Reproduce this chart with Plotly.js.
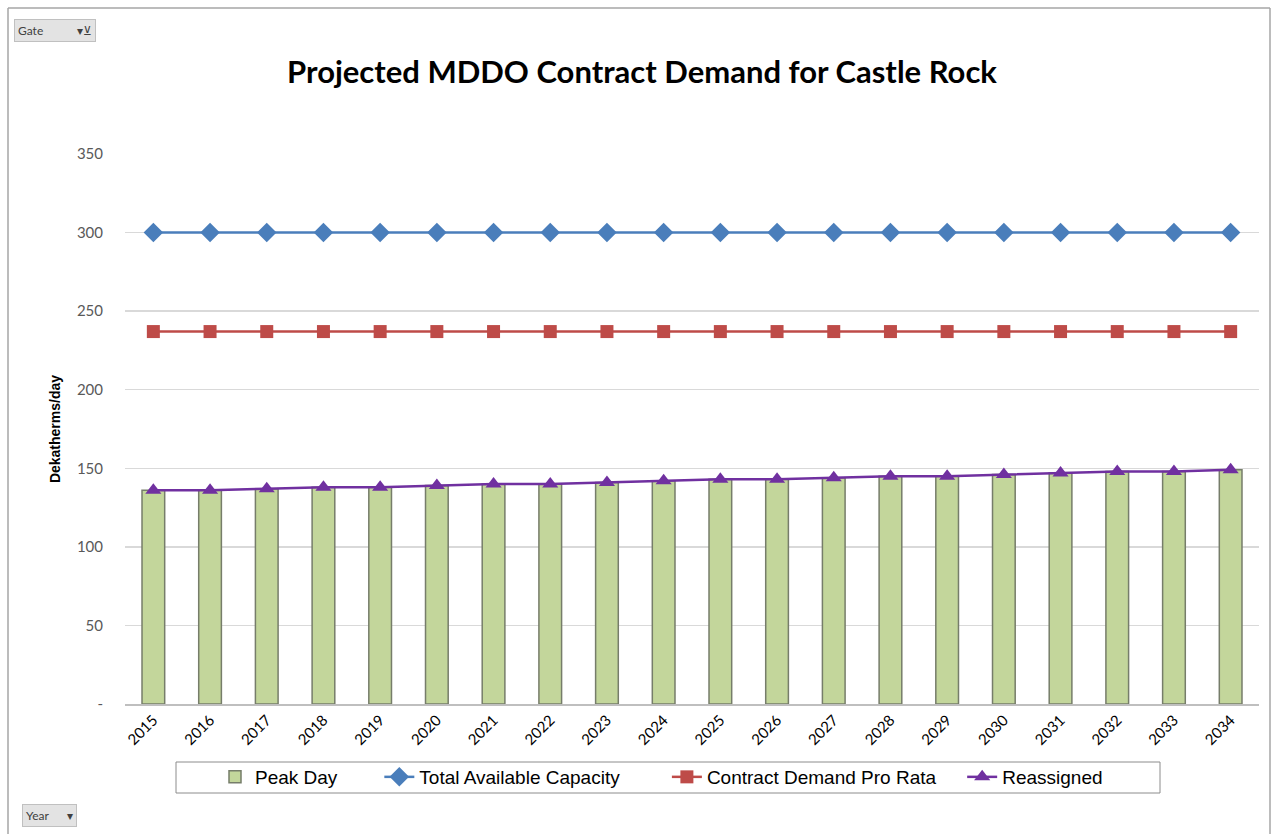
<!DOCTYPE html>
<html>
<head>
<meta charset="utf-8">
<script src="https://cdn.plot.ly/plotly-3.0.1.min.js"></script>
<style>
html,body{margin:0;padding:0;background:#fff;}
#chart{width:1277px;height:834px;}
</style>
</head>
<body>
<div id="chart"></div>
<script>
const years = ["2015","2016","2017","2018","2019","2020","2021","2022","2023","2024","2025","2026","2027","2028","2029","2030","2031","2032","2033","2034"];
const peakDay = [136,136,137,138,138,139,140,140,141,142,143,143,144,145,145,146,147,148,148,149];
const totalCapacity = [300,300,300,300,300,300,300,300,300,300,300,300,300,300,300,300,300,300,300,300];
const contractProRata = [237,237,237,237,237,237,237,237,237,237,237,237,237,237,237,237,237,237,237,237];
const reassigned = [136,136,137,138,138,139,140,140,141,142,143,143,144,145,145,146,147,148,148,149];
const yTickVals = [0,50,100,150,200,250,300,350];
const yTickText = ["-","50","100","150","200","250","300","350"];

const L = 125, R = 18, T = 154, B = 130, W = 1277, H = 834;
const pw = W - L - R, ph = H - T - B;
const px = x => (x - L) / pw;
const py = y => (H - B - y) / ph;
const sp = n => "&nbsp;".repeat(n);

const traces = [
  {type:"bar", name:"Peak Day" + sp(7), x:years, y:peakDay,
   marker:{color:"#c3d69b", line:{color:"#767d6a", width:1.5}}, width:0.4},
  {type:"scatter", mode:"lines+markers", name:"Total Available Capacity" + sp(8), x:years, y:totalCapacity,
   line:{color:"#4a7ebb", width:2.5}, marker:{symbol:"diamond", size:15, color:"#4a7ebb"}},
  {type:"scatter", mode:"lines+markers", name:"Contract Demand Pro Rata" + sp(4), x:years, y:contractProRata,
   line:{color:"#be4b48", width:2.5}, marker:{symbol:"square", size:13, color:"#be4b48"}},
  {type:"scatter", mode:"lines+markers", name:"Reassigned", x:years, y:reassigned,
   line:{color:"#7030a0", width:2.5}, marker:{symbol:"triangle-up", size:14, color:"#7030a0"}}
];

const layout = {
  width:W, height:H,
  margin:{l:L, r:R, t:T, b:B},
  paper_bgcolor:"#fff", plot_bgcolor:"#fff",
  showlegend:true,
  title:{text:"<b>Projected MDDO Contract Demand for Castle Rock</b>", font:{family:"Lato, Carlito, Calibri, sans-serif", size:31, color:"#000"},
         x:642/W, xanchor:"center", y:1-72/H, yanchor:"middle"},
  xaxis:{type:"category", range:[-0.5,19.5], tickangle:-45, tickfont:{family:"Lato, Calibri, sans-serif", size:15, color:"#000"},
         showline:true, linecolor:"#bfbfbf", linewidth:1.5, ticks:"", showgrid:false, fixedrange:true},
  yaxis:{range:[0,350], tickvals:yTickVals, ticktext:yTickText, ticks:"",
         tickfont:{family:"Lato, Calibri, sans-serif", size:15, color:"#595959"},
         gridcolor:"#d9d9d9", gridwidth:1.5, zeroline:false, showline:false, ticklabelstandoff:21,
         title:{text:"<b>Dekatherms/day</b>", font:{family:"Arial, Liberation Sans, sans-serif", size:14, color:"#000"}, standoff:12}},
  legend:{orientation:"h", x:px(215), xanchor:"left", y:py(777), yanchor:"middle",
          borderwidth:0, bgcolor:"rgba(0,0,0,0)",
          font:{family:"Arial, Liberation Sans, sans-serif", size:19, color:"#000"}, traceorder:"normal"},
  bargap:0.6,
  shapes:[
    {type:"line", xref:"paper", yref:"paper", x0:px(8), x1:px(8), y0:py(8), y1:py(834), line:{color:"#a6a6a6", width:1.5}},
    {type:"line", xref:"paper", yref:"paper", x0:px(8), x1:px(1270), y0:py(8), y1:py(8), line:{color:"#a6a6a6", width:1.5}},
    {type:"line", xref:"paper", yref:"paper", x0:px(1270), x1:px(1270), y0:py(8), y1:py(834), line:{color:"#a6a6a6", width:1.5}},
    {type:"rect", xref:"paper", yref:"paper", x0:px(176), x1:px(1160), y0:py(762), y1:py(793), line:{color:"#8c8c8c", width:1}}
  ],
  annotations:[
    {xref:"paper", yref:"paper", x:px(14), y:py(30), xanchor:"left", yanchor:"middle", showarrow:false,
     text:"Gate" + sp(11) + "▾⊻", font:{family:"Lato, sans-serif", size:12, color:"#404040"},
     bgcolor:"#e3e3e3", bordercolor:"#c0c0c0", borderwidth:1, borderpad:3},
    {xref:"paper", yref:"paper", x:px(22), y:py(815), xanchor:"left", yanchor:"middle", showarrow:false,
     text:"Year" + sp(6) + "▾", font:{family:"Lato, sans-serif", size:12, color:"#404040"},
     bgcolor:"#e3e3e3", bordercolor:"#c0c0c0", borderwidth:1, borderpad:3}
  ]
};

Plotly.newPlot("chart", traces, layout, {displayModeBar:false, staticPlot:true});
</script>
</body>
</html>
